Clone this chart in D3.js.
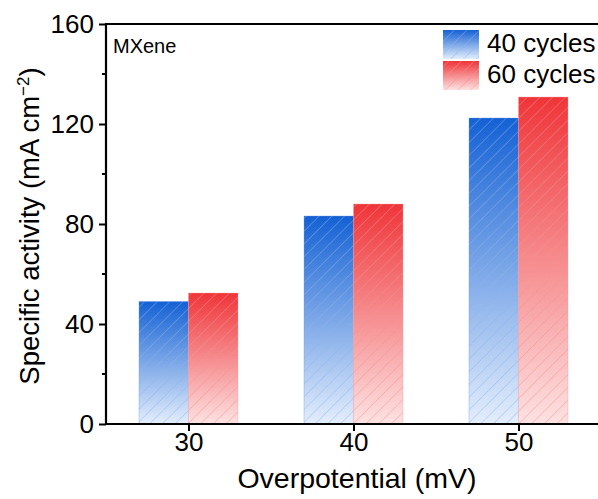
<!DOCTYPE html>
<html><head><meta charset="utf-8">
<script src="https://cdn.jsdelivr.net/npm/d3@7"></script>
<style>
body{margin:0;background:#fff;}
text{font-family:"Liberation Sans",Arial,sans-serif;fill:#000;}
</style></head>
<body><svg id="c" width="598" height="499"></svg>
<script>
const categories = [30, 40, 50];
const series = ["40 cycles", "60 cycles"];
const values40 = [49.0, 83.2, 122.4];
const values60 = [52.4, 88.0, 130.8];
const yTicks = [0, 40, 80, 120, 160];
const yMinorTicks = [20, 60, 100, 140];

const svg = d3.select("#c");
const x = d3.scaleLinear().domain([25, 55]).range([106, 601]);
const y = d3.scaleLinear().domain([0, 160]).range([424, 24]);
const barW = 3;

const colors = [
  {top:"#1461d4", bot:"#e4eefc", hatch:"#8db1ea", edge:"#6f9be4"},
  {top:"#ef3539", bot:"#fde2e2", hatch:"#f29092", edge:"#f7a0a2"}
];
const defs = svg.append("defs");
colors.forEach((c,i)=>{
  const g = defs.append("linearGradient").attr("id","g"+i).attr("x1",0).attr("y1",0).attr("x2",0).attr("y2",1);
  g.append("stop").attr("offset","0%").attr("stop-color",c.top);
  g.append("stop").attr("offset","100%").attr("stop-color",c.bot);
  const p = defs.append("pattern").attr("id","h"+i).attr("patternUnits","userSpaceOnUse")
    .attr("width",9).attr("height",9).attr("patternTransform","rotate(45)");
  p.append("line").attr("x1",0).attr("y1",0).attr("x2",0).attr("y2",9)
    .attr("stroke",c.hatch).attr("stroke-width",1.1).attr("stroke-opacity",0.75);
});

const data = [values40, values60];
data.forEach((vals,si)=>{
  const gg = svg.append("g");
  categories.forEach((cat,ci)=>{
    const x0 = si===0 ? x(cat-barW) : x(cat);
    const x1 = si===0 ? x(cat) : x(cat+barW);
    gg.append("rect").attr("x",x0).attr("y",y(vals[ci])).attr("width",x1-x0).attr("height",y(0)-y(vals[ci]))
      .attr("fill","url(#g"+si+")");
    gg.append("rect").attr("x",x0).attr("y",y(vals[ci])).attr("width",x1-x0).attr("height",y(0)-y(vals[ci]))
      .attr("fill","url(#h"+si+")").attr("stroke",colors[si].edge).attr("stroke-width",0.6).attr("stroke-opacity",0.6);
  });
});

// axes
const yAxis = d3.axisLeft(y).tickValues(yTicks).tickSize(7).tickPadding(5);
const yg = svg.append("g").attr("transform","translate(106,0)").call(yAxis);
yg.selectAll("text").style("font-size","26px").style("font-family","'Liberation Sans',Arial,sans-serif");
yg.selectAll(".tick line").attr("stroke-width",2);
yg.select(".domain").remove();
svg.append("g").selectAll("line").data(yMinorTicks).join("line")
  .attr("x1",102).attr("x2",106).attr("y1",d=>y(d)).attr("y2",d=>y(d)).attr("stroke","#000").attr("stroke-width",2);

const xAxis = d3.axisBottom(x).tickValues(categories).tickSize(7).tickPadding(2);
const xg = svg.append("g").attr("transform","translate(0,424)").call(xAxis);
xg.selectAll("text").style("font-size","26px").style("font-family","'Liberation Sans',Arial,sans-serif");
xg.selectAll(".tick line").attr("stroke-width",2);
xg.select(".domain").remove();

svg.append("line").attr("x1",106).attr("x2",106).attr("y1",23).attr("y2",425).attr("stroke","#000").attr("stroke-width",2.2);
svg.append("line").attr("x1",105).attr("x2",598).attr("y1",424).attr("y2",424).attr("stroke","#000").attr("stroke-width",2.2);
svg.append("line").attr("x1",105).attr("x2",598).attr("y1",24).attr("y2",24).attr("stroke","#000").attr("stroke-width",2.2);

// titles
svg.append("text").attr("x",357).attr("y",488).attr("text-anchor","middle").style("font-size","28.5px").text("Overpotential (mV)");
const yt = svg.append("text").attr("transform","translate(39,226) rotate(-90)").attr("text-anchor","middle").style("font-size","27.5px");
yt.append("tspan").text("Specific activity (mA cm");
yt.append("tspan").attr("dy",-10).style("font-size","17px").text("−2");
yt.append("tspan").attr("dy",10).text(")");

svg.append("text").attr("x",113).attr("y",53).style("font-size","20px").text("MXene");

// legend
series.forEach((s,i)=>{
  const ly = 30 + i*31;
  svg.append("rect").attr("x",443).attr("y",ly).attr("width",36).attr("height",29).attr("fill","url(#g"+i+")");
  svg.append("rect").attr("x",443).attr("y",ly).attr("width",36).attr("height",29).attr("fill","url(#h"+i+")");
  svg.append("text").attr("x",487).attr("y",ly+22).style("font-size","26px").text(s);
});
</script></body></html>
